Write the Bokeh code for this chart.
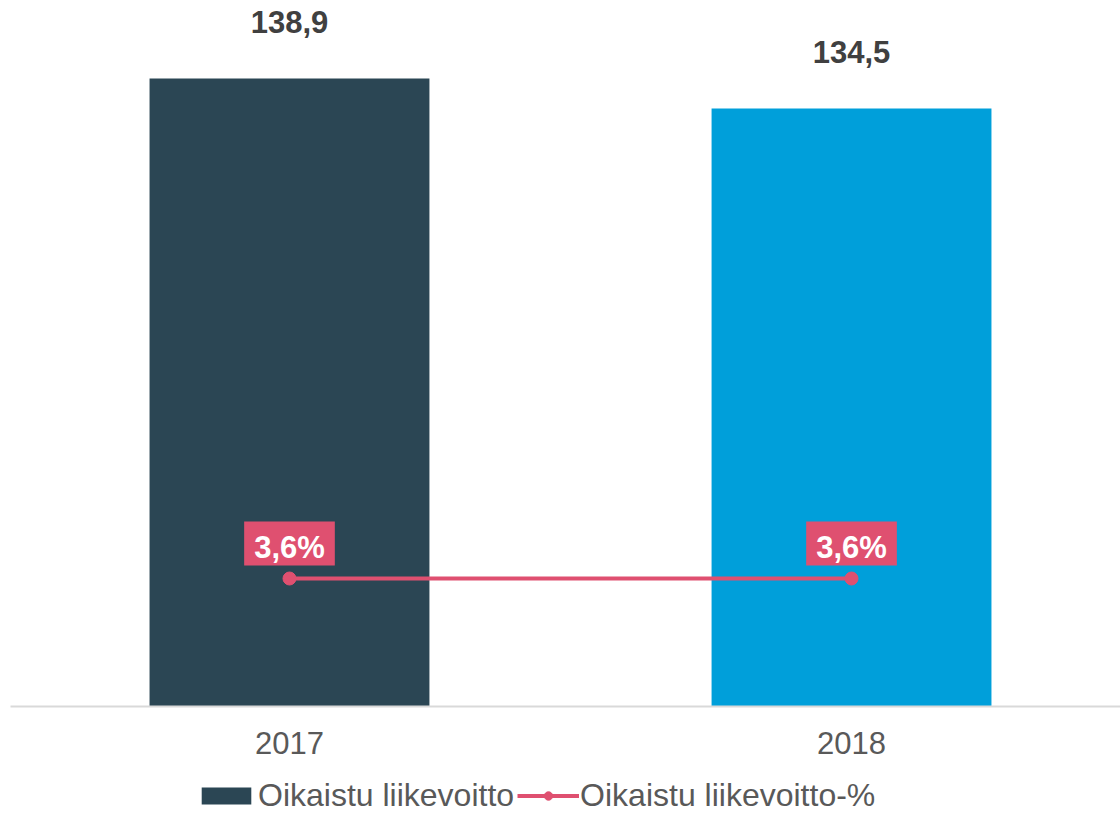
from bokeh.plotting import figure
from bokeh.layouts import column
from bokeh.models import (ColumnDataSource, Range1d, FixedTicker,
                          Legend, LegendItem)
from bokeh.core.properties import value
from bokeh.embed import file_html
from bokeh.resources import INLINE

# ---- data ----
years = ["2017", "2018"]
profit = [138.9, 134.5]          # Oikaistu liikevoitto
profit_pct = [3.6, 3.6]          # Oikaistu liikevoitto-%
bar_colors = ["#2B4654", "#009FDA"]
series_names = ["Oikaistu liikevoitto", "Oikaistu liikevoitto-%"]

FONT = "Liberation Sans"
PINK = "#DF5070"

xs = list(range(len(years)))
src = ColumnDataSource(dict(
    x=xs,
    profit=profit,
    pct=profit_pct,
    color=bar_colors,
    profit_lbl=[f"{v:.1f}".replace(".", ",") for v in profit],
    pct_lbl=[f"{v:.1f}".replace(".", ",") + "%" for v in profit_pct],
))

p = figure(width=1120, height=760, output_backend="svg", toolbar_location=None,
           x_range=Range1d(-0.4964, 1.4786), y_range=Range1d(46.79, 148.87),
           min_border_left=10, min_border_right=0, min_border_top=10,
           min_border_bottom=54)
p.outline_line_color = None
p.grid.visible = False
p.yaxis.visible = False
p.extra_y_ranges = {"pct": Range1d(0, 19.575)}

p.xaxis.ticker = FixedTicker(ticks=xs)
p.xaxis.major_label_overrides = {i: y for i, y in enumerate(years)}
p.xaxis.axis_line_color = "#D9D9D9"
p.xaxis.axis_line_width = 2
p.xaxis.major_tick_line_color = None
p.xaxis.minor_tick_line_color = None
p.xaxis.major_label_standoff = 19
p.xaxis.major_label_text_font = FONT
p.xaxis.major_label_text_font_size = "31px"
p.xaxis.major_label_text_color = "#595959"

p.vbar(x="x", top="profit", bottom=0, width=0.498, color="color",
       line_color=None, source=src)

p.text(x="x", y="profit", text="profit_lbl", source=src,
       text_font=value(FONT), text_font_size="31px", text_font_style="bold",
       text_color="#404040", text_align="center", text_baseline="alphabetic",
       y_offset=-56)

p.line(x="x", y="pct", source=src, line_color=PINK, line_width=4,
       y_range_name="pct")
p.scatter(x="x", y="pct", source=src, size=13, color=PINK,
          y_range_name="pct")

p.text(x="x", y="pct", text="pct_lbl", source=src, y_range_name="pct",
       text_font=value(FONT), text_font_size="31px", text_font_style="bold",
       text_color="white", text_align="center", text_baseline="alphabetic",
       y_offset=-35, background_fill_color=PINK,
       padding=dict(left=10, right=10, top=8, bottom=1))

# ---- legend strip below the chart (hidden copies of the series) ----
lg = figure(width=1120, height=54, output_backend="svg", toolbar_location=None,
            x_range=Range1d(0, 1), y_range=Range1d(0, 1),
            min_border_left=0, min_border_right=0, min_border_top=0,
            min_border_bottom=0)
lg.outline_line_color = None
lg.axis.visible = False
lg.grid.visible = False
r_bar = lg.vbar(x="x", top="profit", width=0.5, color="color",
                line_color=None, source=src, visible=False)
r_line = lg.line(x="x", y="pct", line_color=PINK, line_width=4, source=src,
                 visible=False)
r_dot = lg.scatter(x="x", y="pct", size=13, color=PINK, source=src,
                   visible=False)

legend = Legend(items=[
    LegendItem(label=series_names[0], renderers=[r_bar], index=0),
    LegendItem(label=series_names[1], renderers=[r_line, r_dot]),
], orientation="horizontal", location=(185, 0), border_line_color=None,
   background_fill_alpha=0, padding=0, margin=0, spacing=3,
   label_standoff=1, glyph_width=62, glyph_height=21,
   inactive_fill_alpha=0,
   label_text_font=FONT, label_text_font_size="32px",
   label_text_color="#595959")
lg.add_layout(legend, "center")

layout = column(p, lg, spacing=0)
open("out.html", "w").write(file_html(layout, INLINE))
